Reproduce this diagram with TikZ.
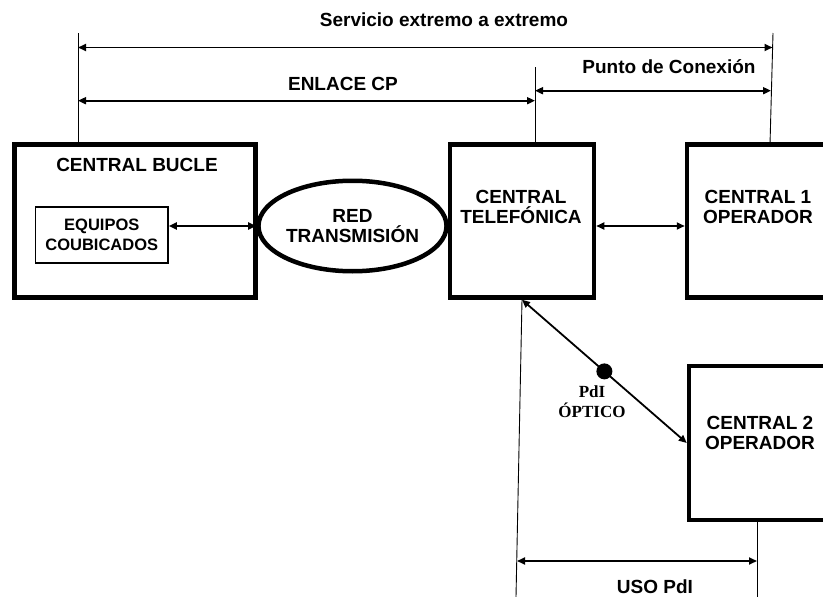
\documentclass[tikz,border=0pt]{standalone}
\usepackage{fontspec}
\setmainfont{Liberation Sans}
\newfontfamily\timesf{Liberation Serif}
\usetikzlibrary{arrows.meta,shapes.geometric,calc}
\begin{document}
\begin{tikzpicture}[x=1pt,y=-1pt,
  bigbox/.style={draw,line width=4.5pt,inner sep=0pt,minimum width=144pt,minimum height=153pt},
  lbl/.style={font=\fontsize{19pt}{20pt}\selectfont\bfseries,align=center,inner sep=0pt},
  smalllbl/.style={font=\fontsize{16.5pt}{20pt}\selectfont\bfseries,align=center,inner sep=0pt},
  optlbl/.style={font=\fontsize{17pt}{20pt}\selectfont\timesf\bfseries,align=center,inner sep=0pt},
  dimline/.style={line width=0.9pt},
  arr/.style={line width=1.8pt,{Triangle[length=8pt,width=7pt]}-{Triangle[length=8pt,width=7pt]}},
  pdot/.style={circle,fill=black,inner sep=0pt,minimum size=16pt}
]
\useasboundingbox (0,0) rectangle (823,597);
% boxes
\node[bigbox,minimum width=241pt] (bucle) at (135,221) {};
\node[lbl] (bucletxt) at (137,165) {CENTRAL BUCLE};
\node[draw,line width=1.6pt,inner sep=0pt,minimum width=132.5pt,minimum height=56pt,smalllbl] (equipos) at (101.75,235) {EQUIPOS\\COUBICADOS};
\node[ellipse,draw,line width=4.5pt,inner sep=0pt,minimum width=186pt,minimum height=90.5pt,lbl] (red) at (352.5,226) {RED\\TRANSMISIÓN};
\node[bigbox] (tel) at (522,221) {};
\node[lbl] (teltxt) at (521,207) {CENTRAL\\TELEFÓNICA};
\node[bigbox] (op1) at (759,221) {};
\node[lbl] (op1txt) at (758,207) {CENTRAL 1\\OPERADOR};
\node[bigbox,minimum height=154pt] (op2) at (761,443) {};
\node[lbl] (op2txt) at (760,433) {CENTRAL 2\\OPERADOR};
% connectors between boxes
\draw[arr] (equipos.east |- red.center) -- (red.west);
\draw[arr] (tel.east |- red.center) -- (op1.west |- red.center);
\draw[arr] (tel.south) -- (op2.west) node[pdot,pos=0.5] (pdi) {};
\node[optlbl] (pdilbl) at (592,402) {PdI\\ÓPTICO};
% extension lines
\coordinate (ltop) at (78,33);
\coordinate (rtop) at (773,33);
\coordinate (mtop) at (535,67);
\coordinate (bl) at (516,597);
\coordinate (br) at (757,597);
\draw[dimline] (ltop) -- (ltop |- bucle.north);
\draw[dimline] (rtop) -- (770,144.5);
\draw[dimline] (mtop) -- (mtop |- tel.north);
\draw[dimline] (tel.south) -- (bl);
\draw[dimline] (br |- op2.south) -- (br);
% dimension arrows
\coordinate (s1) at (78,47.5);
\coordinate (s2) at (772.5,47.5);
\coordinate (e1) at (78,100.7);
\coordinate (e2) at (535,100.7);
\coordinate (p1) at (535,90.7);
\coordinate (p2) at (771,90.7);
\coordinate (u1) at (517,561);
\coordinate (u2) at (757,561);
\draw[arr] (s1) -- (s2);
\draw[arr] (e1) -- (e2);
\draw[arr] (p1) -- (p2);
\draw[arr] (u1) -- (u2);
\node[lbl] (stxt) at (444,20) {Servicio extremo a extremo};
\node[lbl] (etxt) at (343,84) {ENLACE CP};
\node[lbl] (ptxt) at (669,67) {Punto de Conexión};
\node[lbl] (utxt) at (655,587) {USO PdI};
\end{tikzpicture}
\end{document}
